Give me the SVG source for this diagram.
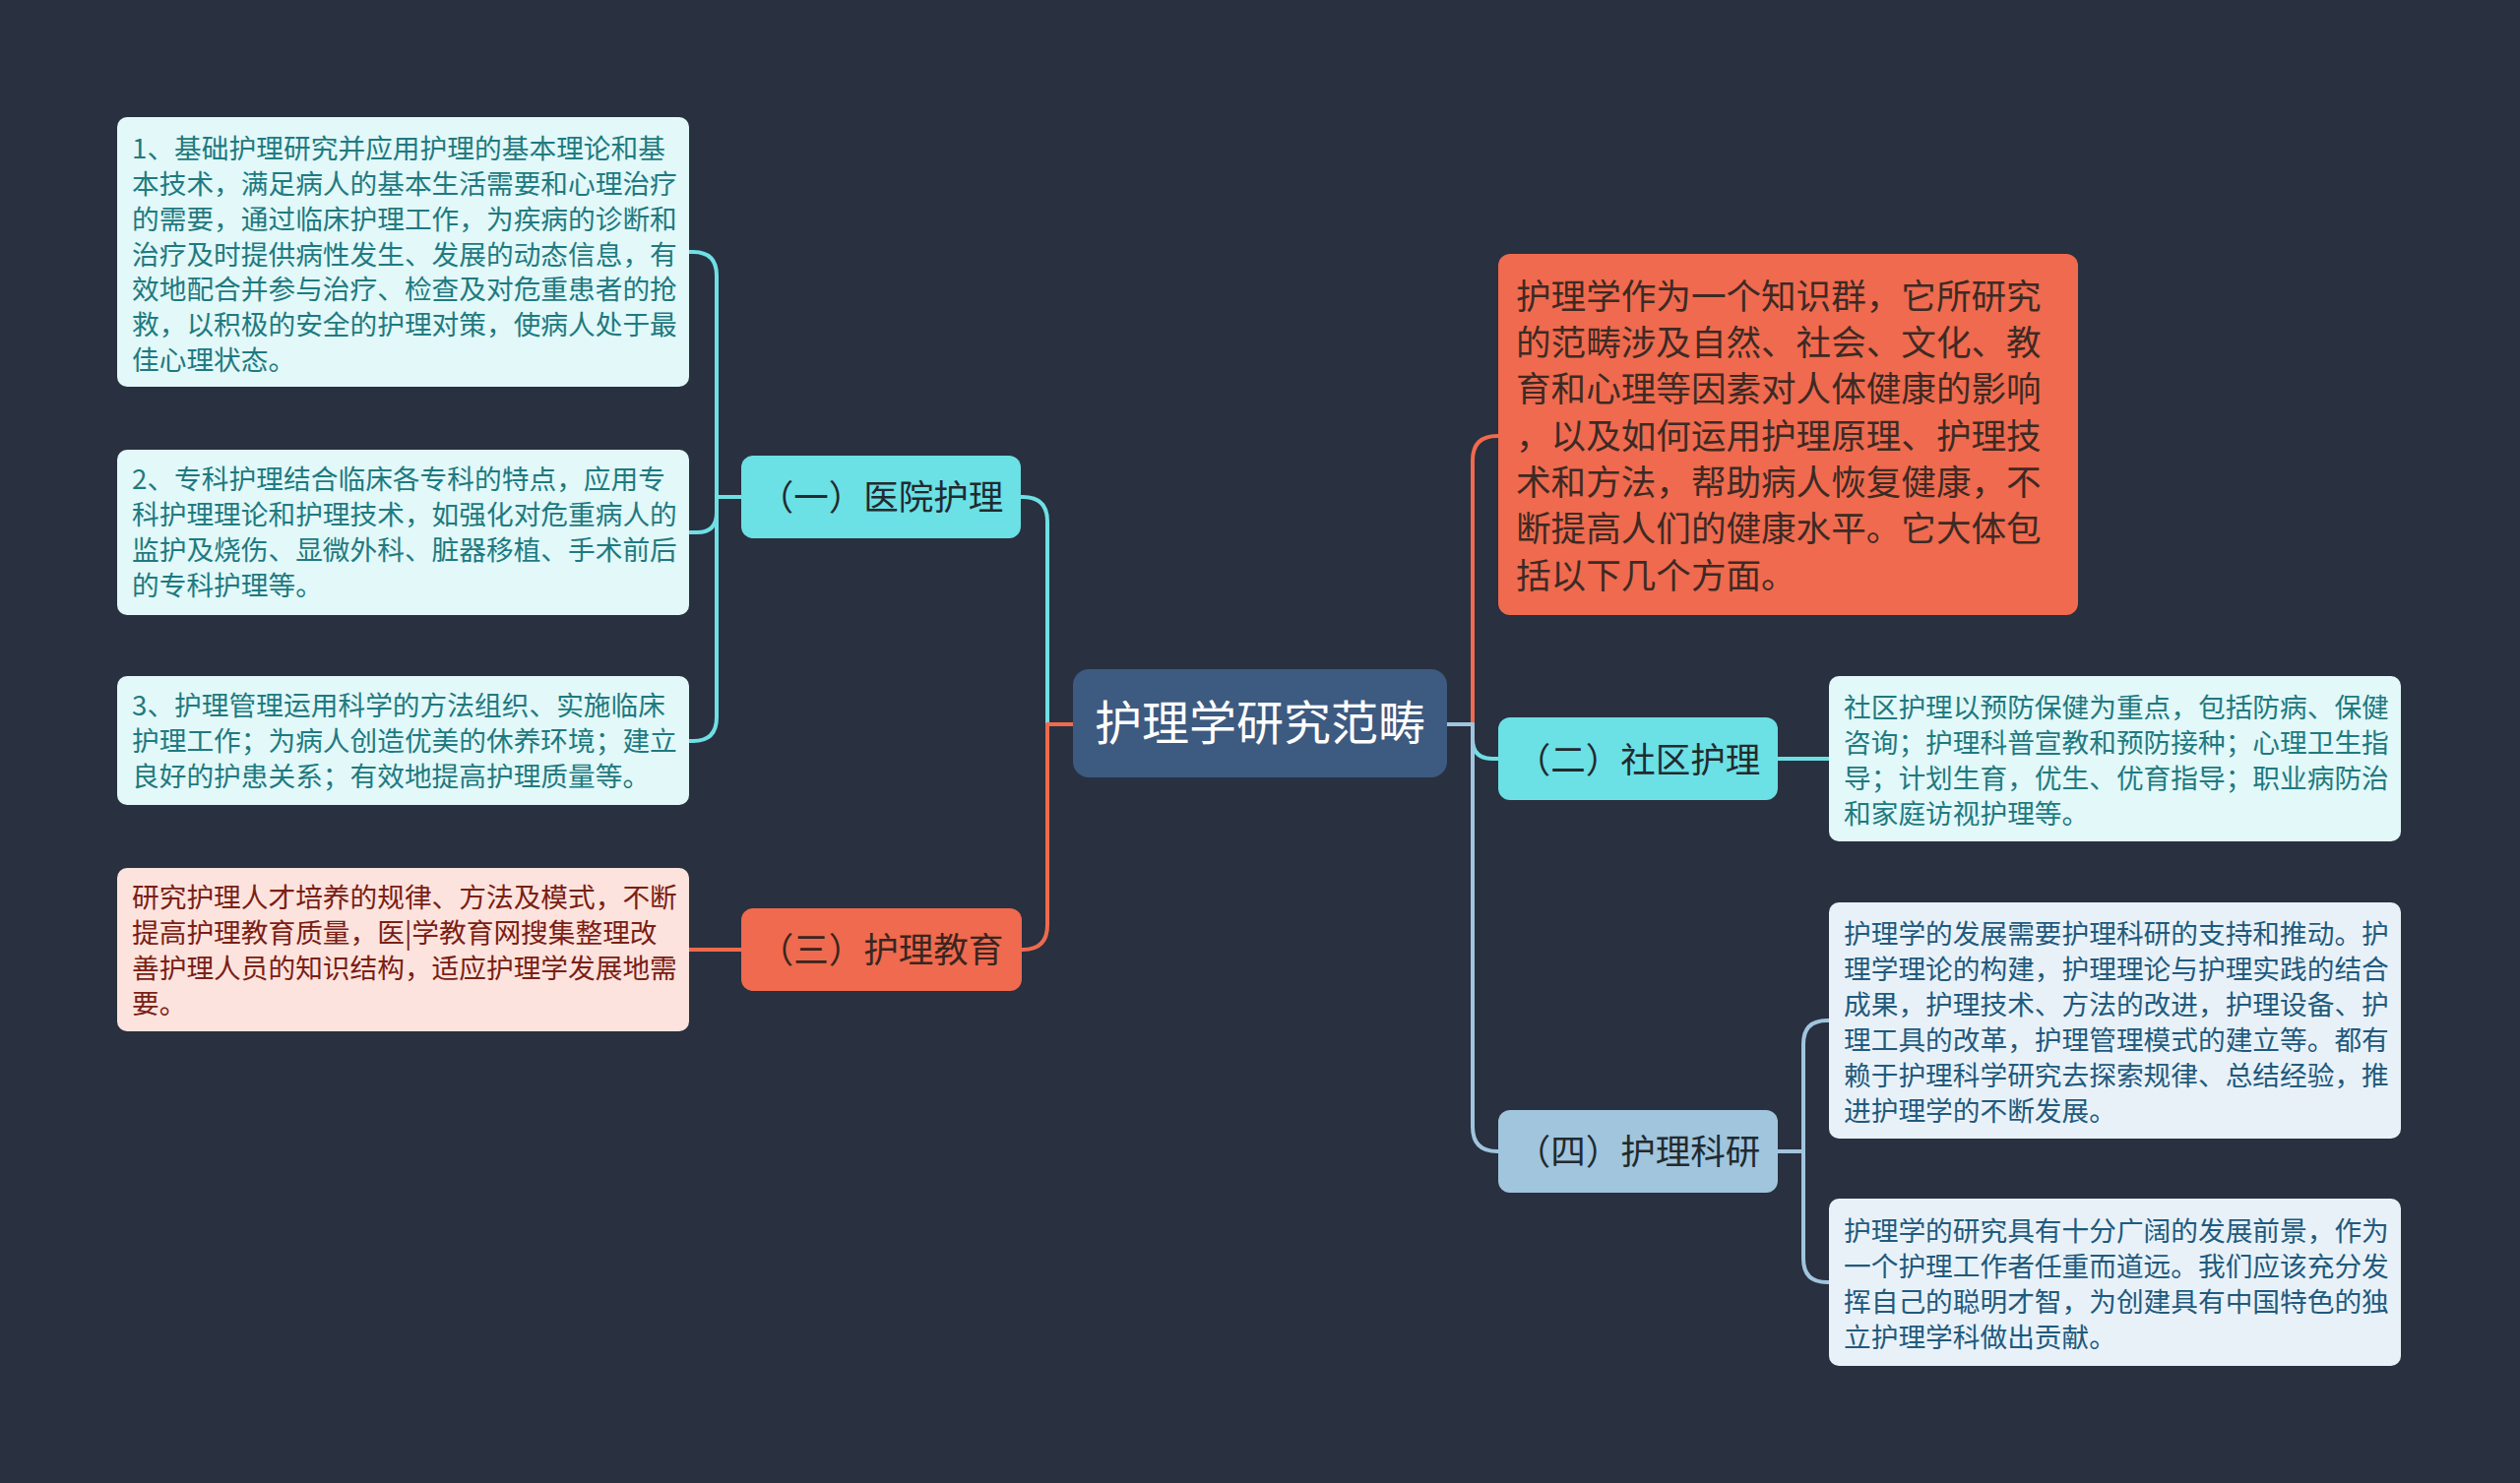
<svg xmlns="http://www.w3.org/2000/svg" width="2560" height="1507" viewBox="0 0 2560 1507">
<style>
text{font-family:"Noto Sans CJK SC","Noto Sans",sans-serif;}
.c{fill:none;stroke-width:4;stroke-linejoin:round;stroke-linecap:round;}
.cy{stroke:#6ee0e5;}
.or{stroke:#ef6a4e;}
.lb{stroke:#a0c5dd;}
.leafc{fill:#e2f8f9;}
.leafe{fill:#fde3dd;}
.leafr{fill:#e9f1f8;}
.tc{fill:#1f7a80;font-size:27.7px;}
.te{fill:#7a2015;font-size:27.7px;}
.tr{fill:#215a7d;font-size:27.7px;}
.mid{font-size:35.5px;fill:#222a2e;text-anchor:middle;}
.to{fill:#3d2a25;font-size:35.6px;}
</style>
<rect width="2560" height="1507" fill="#29303f"/>
<g id="connectors">
<path class="c cy" d="M1090 736 H1064 V530 Q1064 505 1039 505 H1037"/>
<path class="c or" d="M1090 736 H1064 V940 Q1064 965 1039 965 H1038"/>
<path class="c or" d="M1470 736 H1496 V468 Q1496 443 1521 443 H1522"/>
<path class="c cy" d="M1470 736 H1496 V751 Q1496 771 1516 771 H1522"/>
<path class="c lb" d="M1470 736 H1496 V1145 Q1496 1170 1521 1170 H1522"/>
<path class="c cy" d="M753 505 H728 V280 Q728 256 704 256 H700"/>
<path class="c cy" d="M753 505 H728 V521 Q728 541 708 541 H700"/>
<path class="c cy" d="M753 505 H728 V729 Q728 753 704 753 H700"/>
<path class="c or" d="M753 965 H700"/>
<path class="c cy" d="M1806 771 H1858"/>
<path class="c lb" d="M1806 1170 H1832 V1061 Q1832 1037 1856 1037 H1858"/>
<path class="c lb" d="M1806 1170 H1832 V1279 Q1832 1303 1856 1303 H1858"/>
</g>
<g id="root">
<rect x="1090" y="680" width="380" height="110" rx="16" fill="#3d5a80"/>
<text x="1280" y="752" font-size="48" fill="#ffffff" text-anchor="middle">护理学研究范畴</text>
</g>
<g id="n1">
<rect x="753" y="463" width="284" height="84" rx="12" fill="#6be0e5"/>
<text class="mid" x="895" y="518">（一）医院护理</text>
</g>
<g id="n2">
<rect x="1522" y="729" width="284" height="84" rx="12" fill="#6be0e5"/>
<text class="mid" x="1664" y="785">（二）社区护理</text>
</g>
<g id="n3">
<rect x="753" y="923" width="285" height="84" rx="12" fill="#ef6a4e"/>
<text class="mid" x="895" y="978" style="fill:#3a2520">（三）护理教育</text>
</g>
<g id="n4">
<rect x="1522" y="1128" width="284" height="84" rx="12" fill="#a0c5dd"/>
<text class="mid" x="1664" y="1183">（四）护理科研</text>
</g>
<g id="intro">
<rect x="1522" y="258" width="589" height="367" rx="12" fill="#ef6a4e"/>
<text class="to" x="1540" y="314">护理学作为一个知识群，它所研究</text>
<text class="to" x="1540" y="361">的范畴涉及自然、社会、文化、教</text>
<text class="to" x="1540" y="408">育和心理等因素对人体健康的影响</text>
<text class="to" x="1540" y="456">，以及如何运用护理原理、护理技</text>
<text class="to" x="1540" y="503">术和方法，帮助病人恢复健康，不</text>
<text class="to" x="1540" y="550">断提高人们的健康水平。它大体包</text>
<text class="to" x="1540" y="598">括以下几个方面。</text>
</g>
<g id="leaf1">
<rect class="leafc" x="119" y="119" width="581" height="274" rx="10"/>
<text class="tc" x="134" y="161" textLength="542" lengthAdjust="spacing">1、基础护理研究并应用护理的基本理论和基</text>
<text class="tc" x="134" y="197">本技术，满足病人的基本生活需要和心理治疗</text>
<text class="tc" x="134" y="233">的需要，通过临床护理工作，为疾病的诊断和</text>
<text class="tc" x="134" y="269">治疗及时提供病性发生、发展的动态信息，有</text>
<text class="tc" x="134" y="304">效地配合并参与治疗、检查及对危重患者的抢</text>
<text class="tc" x="134" y="340">救，以积极的安全的护理对策，使病人处于最</text>
<text class="tc" x="134" y="376">佳心理状态。</text>
</g>
<g id="leaf2">
<rect class="leafc" x="119" y="457" width="581" height="168" rx="10"/>
<text class="tc" x="134" y="497" textLength="542" lengthAdjust="spacing">2、专科护理结合临床各专科的特点，应用专</text>
<text class="tc" x="134" y="533">科护理理论和护理技术，如强化对危重病人的</text>
<text class="tc" x="134" y="569">监护及烧伤、显微外科、脏器移植、手术前后</text>
<text class="tc" x="134" y="605">的专科护理等。</text>
</g>
<g id="leaf3">
<rect class="leafc" x="119" y="687" width="581" height="131" rx="10"/>
<text class="tc" x="134" y="727" textLength="542" lengthAdjust="spacing">3、护理管理运用科学的方法组织、实施临床</text>
<text class="tc" x="134" y="763">护理工作；为病人创造优美的休养环境；建立</text>
<text class="tc" x="134" y="799">良好的护患关系；有效地提高护理质量等。</text>
</g>
<g id="leaf4">
<rect class="leafe" x="119" y="882" width="581" height="166" rx="10"/>
<text class="te" x="134" y="922">研究护理人才培养的规律、方法及模式，不断</text>
<text class="te" x="134" y="958">提高护理教育质量，医|学教育网搜集整理改</text>
<text class="te" x="134" y="994">善护理人员的知识结构，适应护理学发展地需</text>
<text class="te" x="134" y="1030">要。</text>
</g>
<g id="leaf5">
<rect class="leafc" x="1858" y="687" width="581" height="168" rx="10"/>
<text class="tc" x="1873" y="729">社区护理以预防保健为重点，包括防病、保健</text>
<text class="tc" x="1873" y="765">咨询；护理科普宣教和预防接种；心理卫生指</text>
<text class="tc" x="1873" y="801">导；计划生育，优生、优育指导；职业病防治</text>
<text class="tc" x="1873" y="837">和家庭访视护理等。</text>
</g>
<g id="leaf6">
<rect class="leafr" x="1858" y="917" width="581" height="240" rx="10"/>
<text class="tr" x="1873" y="959">护理学的发展需要护理科研的支持和推动。护</text>
<text class="tr" x="1873" y="995">理学理论的构建，护理理论与护理实践的结合</text>
<text class="tr" x="1873" y="1031">成果，护理技术、方法的改进，护理设备、护</text>
<text class="tr" x="1873" y="1067">理工具的改革，护理管理模式的建立等。都有</text>
<text class="tr" x="1873" y="1103">赖于护理科学研究去探索规律、总结经验，推</text>
<text class="tr" x="1873" y="1139">进护理学的不断发展。</text>
</g>
<g id="leaf7">
<rect class="leafr" x="1858" y="1218" width="581" height="170" rx="10"/>
<text class="tr" x="1873" y="1261">护理学的研究具有十分广阔的发展前景，作为</text>
<text class="tr" x="1873" y="1297">一个护理工作者任重而道远。我们应该充分发</text>
<text class="tr" x="1873" y="1333">挥自己的聪明才智，为创建具有中国特色的独</text>
<text class="tr" x="1873" y="1369">立护理学科做出贡献。</text>
</g>
</svg>
